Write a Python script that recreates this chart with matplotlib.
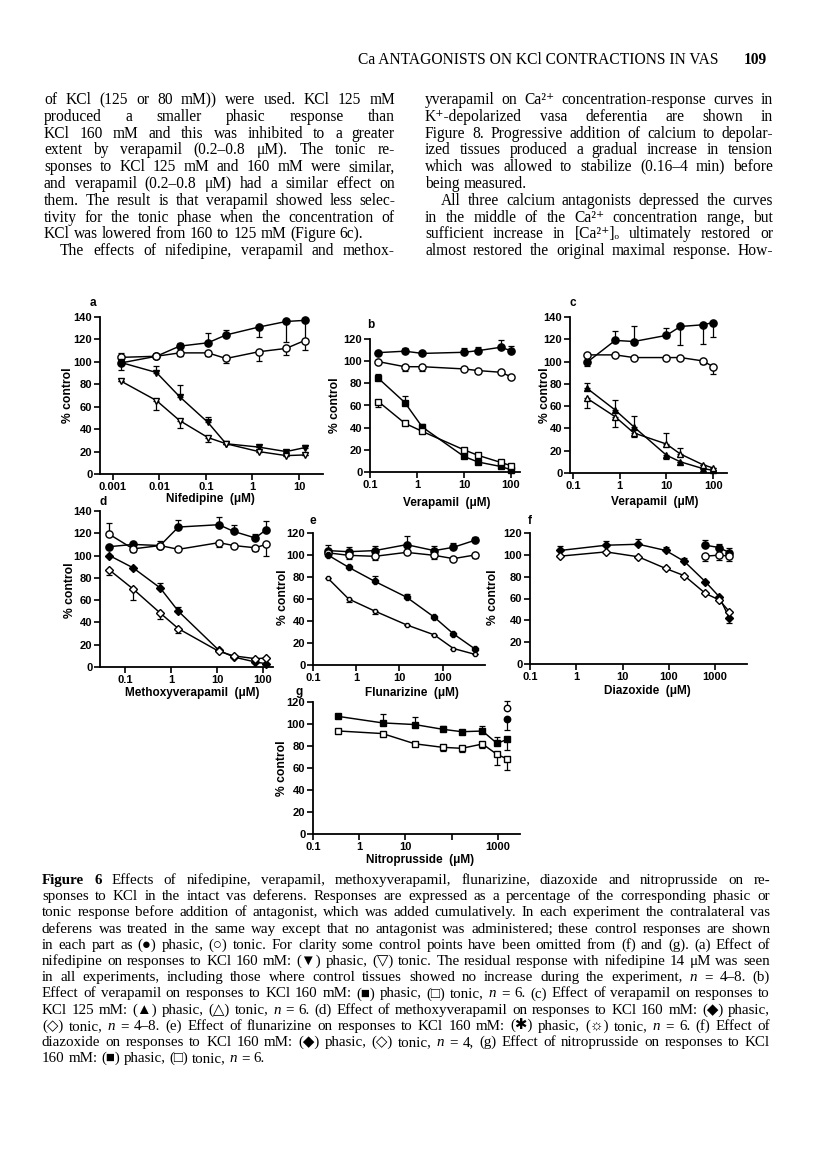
import numpy as np
import matplotlib
matplotlib.use("Agg")
import matplotlib.pyplot as plt
from matplotlib.ticker import NullLocator

# ---- data (concentration in uM, response in % control) ----
# error values: positive = bar drawn upward, negative = bar drawn downward

# (a) nifedipine, KCl 160 mM
nif_conc = [0.00146, 0.0086, 0.027, 0.11, 0.27, 1.36, 5.3, 13.2]
nif_ctrl_ph = [99, 105, 114, 117, 124, 131, 136, 137]
nif_ctrl_ph_err = [-6, 2, 3, 9, 4, -9, -18, -17]
nif_ctrl_to = [104, 105, 108, 108, 103, 109, 112, 119]
nif_ctrl_to_err = [4, -2, -3, -3, -4, -8, -6, -8]
nif_ph = [99.5, 90.5, 69, 46, 27, 24, 20, 23.5]
nif_ph_err = [0, 6, 10, 5, 0, 0, 0, 2]
nif_to = [83, 65.5, 47.7, 32.5, 27, 20, 16.4, 17]
nif_to_err = [0, -8, -7, -4, 0, 0, 0, 0]

# (b) verapamil, KCl 160 mM
ver_conc = [0.15, 0.55, 1.3, 10, 20, 60, 100]
ver_ctrl_ph = [107.7, 109, 107, 108, 109.5, 112.5, 109.5]
ver_ctrl_ph_err = [0, 3, 0, 4, 3, 7, 4]
ver_ctrl_to = [99.6, 95, 95, 93, 91.5, 90, 86]
ver_ctrl_to_err = [0, -4, -4, 0, -2, 0, 0]
ver_ph = [84.6, 62.7, 40.5, 14, 9, 5, 2]
ver_ph_err = [4, 6, 3, 0, 0, 0, 0]
ver_to = [63.6, 44, 36.6, 20, 15, 8.7, 5.7]
ver_to_err = [-5, 0, 0, 0, 0, 0, 0]

# (c) verapamil, KCl 125 mM
v125_conc = [0.2, 0.8, 2, 10, 20, 60, 100]
v125_ctrl_ph = [99.4, 119, 118, 123.5, 131.5, 133, 135]
v125_ctrl_ph_err = [-3, 8, 14, 7, -17, -17, -13]
v125_ctrl_to = [106, 106, 103.6, 103.6, 103.6, 100.6, 95.5]
v125_ctrl_to_err = [0, 0, 0, 0, 0, -3, -7]
v125_ph = [76, 56.5, 41.5, 16, 10, 4, 2.4]
v125_ph_err = [5, 9, 10, -3, 0, 0, 0]
v125_to = [67, 50.5, 36, 26, 17, 7.5, 4.5]
v125_to_err = [-9, -9, -4, 10, 5, 0, 0]

# (d) methoxyverapamil, KCl 160 mM
mv_conc = [0.046, 0.15, 0.58, 1.45, 11, 23, 68, 115]
mv_ctrl_ph = [108, 110, 109, 125.6, 127.7, 121.7, 115.8, 123]
mv_ctrl_ph_err = [0, 0, 4, 6, 7, 6, 4, 8]
mv_ctrl_to = [119, 106, 109, 105.6, 111.6, 109, 107, 110]
mv_ctrl_to_err = [10, -3, 0, 0, -4, 0, -3, -10]
mv_ph = [100, 89, 71, 50, 15, 9, 4.5, 3]
mv_ph_err = [0, 0, 4, 4, 0, 0, 0, 0]
mv_to = [87, 70, 48.5, 34.4, 14, 10, 7.5, 8]
mv_to_err = [-4, -10, -5, -4, 0, 0, 0, 0]

# (e) flunarizine, KCl 160 mM
flu_conc = [0.22, 0.67, 2.7, 14.6, 64, 178, 560]
flu_ctrl_ph = [104, 103, 104, 109.4, 104, 107, 113.4]
flu_ctrl_ph_err = [5, 4, 4, 8, 4, 4, 3]
flu_ctrl_to = [102, 99.7, 98.8, 102.4, 99.7, 96.7, 100]
flu_ctrl_to_err = [0, -3, -3, 0, -3, 0, -3]
flu_ph = [100, 88.8, 76, 61.7, 43.5, 28.3, 14.6]
flu_ph_err = [0, 0, 5, 3, 0, 0, 0]
flu_to = [79, 60, 49, 36.5, 27.4, 15, 9.7]
flu_to_err = [0, -3, -3, 0, 0, 0, 0]

# (f) diazoxide, KCl 160 mM
dia_conc = [0.45, 4.4, 22, 86, 217, 618, 1230, 2040]
dia_ph = [104, 108.8, 109.7, 104, 94, 75.4, 61.7, 42]
dia_ph_err = [4, 4, 5, 3, 3, 0, 0, -4]
dia_to = [98.8, 102.7, 98.2, 87.5, 80.9, 64.7, 58.7, 48]
dia_to_err = [0, 0, 0, 0, 0, 0, 0, 0]
dia_ctrl_conc = [618, 1230, 2040]
dia_ctrl_ph = [108.8, 106.7, 102]
dia_ctrl_ph_err = [5, 3, 4]
dia_ctrl_to = [98.8, 99.7, 98.8]
dia_ctrl_to_err = [-4, -4, -4]

# (g) nitroprusside, KCl 160 mM
nit_conc = [0.34, 3.2, 16, 64, 166, 466, 960, 1600]
nit_ph = [107, 101, 99.5, 95.2, 93, 93.6, 82.4, 86]
nit_ph_err = [0, 8, 7, 3, 0, 5, 6, -10]
nit_to = [93.7, 91.3, 82, 78.8, 77.9, 81.8, 72.4, 68.2]
nit_to_err = [0, 0, 0, -3, -3, -4, -10, -10]
nit_ctrl_conc = [1600]
nit_ctrl_ph = [104.3]
nit_ctrl_ph_err = [-10]
nit_ctrl_to = [114.3]
nit_ctrl_to_err = [7]

# ---- page text ----
header = "Ca ANTAGONISTS ON KCl CONTRACTIONS IN VAS"
page_no = "109"

left_col = [
    "of KCl (125 or 80 mM)) were used. KCl 125 mM",
    "produced a smaller phasic response than",
    "KCl 160 mM and this was inhibited to a greater",
    "extent by verapamil (0.2–0.8 μM). The tonic re-",
    "sponses to KCl 125 mM and 160 mM were similar,",
    "and verapamil (0.2–0.8 μM) had a similar effect on",
    "them. The result is that verapamil showed less selec-",
    "tivity for the tonic phase when the concentration of",
    "KCl was lowered from 160 to 125 mM (Figure 6c).",
    "The effects of nifedipine, verapamil and methox-",
]
right_col = [
    "yverapamil on Ca²⁺ concentration-response curves in",
    "K⁺-depolarized vasa deferentia are shown in",
    "Figure 8. Progressive addition of calcium to depolar-",
    "ized tissues produced a gradual increase in tension",
    "which was allowed to stabilize (0.16–4 min) before",
    "being measured.",
    "All three calcium antagonists depressed the curves",
    "in the middle of the Ca²⁺ concentration range, but",
    "sufficient increase in [Ca²⁺]ₒ ultimately restored or",
    "almost restored the original maximal response. How-",
]
left_ragged = {8}
left_indent = {9}
right_ragged = {5}
right_indent = {6}

caption = [
    "Figure 6 Effects of nifedipine, verapamil, methoxyverapamil, flunarizine, diazoxide and nitroprusside on re-",
    "sponses to KCl in the intact vas deferens. Responses are expressed as a percentage of the corresponding phasic or",
    "tonic response before addition of antagonist, which was added cumulatively. In each experiment the contralateral vas",
    "deferens was treated in the same way except that no antagonist was administered; these control responses are shown",
    "in each part as (●) phasic, (○) tonic. For clarity some control points have been omitted from (f) and (g). (a) Effect of",
    "nifedipine on responses to KCl 160 mM: (▼) phasic, (▽) tonic. The residual response with nifedipine 14 μM was seen",
    "in all experiments, including those where control tissues showed no increase during the experiment, n = 4–8. (b)",
    "Effect of verapamil on responses to KCl 160 mM: (■) phasic, (□) tonic, n = 6. (c) Effect of verapamil on responses to",
    "KCl 125 mM: (▲) phasic, (△) tonic, n = 6. (d) Effect of methoxyverapamil on responses to KCl 160 mM: (◆) phasic,",
    "(◇) tonic, n = 4–8. (e) Effect of flunarizine on responses to KCl 160 mM: (✱) phasic, (☼) tonic, n = 6. (f) Effect of",
    "diazoxide on responses to KCl 160 mM: (◆) phasic, (◇) tonic, n = 4, (g) Effect of nitroprusside on responses to KCl",
    "160 mM: (■) phasic, (□) tonic, n = 6.",
]

# ---- figure ----
W, H = 816, 1163
fig = plt.figure(figsize=(W / 100, H / 100), dpi=100)
fig.patch.set_facecolor("white")
renderer = fig.canvas.get_renderer()

SERIF = ["Liberation Serif", "DejaVu Sans"]
SANS = ["Liberation Sans", "DejaVu Sans"]


def fx(px):
    return px / W


def fy(py):
    return 1 - py / H


def put_line(text, x0, x1, yb, size, justify=True, bold_words=0):
    words = text.split()
    while True:
        arts = []
        for i, w in enumerate(words):
            kw = {}
            if i < bold_words:
                kw["fontweight"] = "bold"
            if w == "n":
                kw["fontstyle"] = "italic"
            arts.append(fig.text(0, fy(yb), w, fontsize=size, family=SERIF,
                                 va="baseline", ha="left", **kw))
        widths = [t.get_window_extent(renderer).width for t in arts]
        space = size * 100 / 72 * 0.25
        gap = space
        if justify and len(words) > 1:
            gap = (x1 - x0 - sum(widths)) / (len(words) - 1)
        if gap > 0.45 * space:
            break
        for t in arts:
            t.remove()
        size -= 0.2
    x = x0
    for t, w in zip(arts, widths):
        t.set_x(fx(x))
        x += w + gap


# header
fig.text(fx(358), fy(64), header, fontsize=11.2, family=SERIF, va="baseline", ha="left")
fig.text(fx(767), fy(64), page_no, fontsize=11.2, family=SERIF, weight="bold",
         va="baseline", ha="right")

# two text columns
for i, line in enumerate(left_col):
    x0 = 44 + (16 if i in left_indent else 0)
    put_line(line, x0, 395, 104 + i * 16.8, 11.2, justify=i not in left_ragged)
for i, line in enumerate(right_col):
    x0 = 425 + (16 if i in right_indent else 0)
    put_line(line, x0, 773, 104 + i * 16.8, 11.2, justify=i not in right_ragged)

# caption
for i, line in enumerate(caption):
    put_line(line, 42, 770, 884 + i * 16.2, 10.8, justify=i != len(caption) - 1,
             bold_words=2 if i == 0 else 0)


# ---- panels ----
def make_panel(left, right, top, bottom, ymax, ref_px, ref_val, dec_px, ticks, labels):
    ax = fig.add_axes([fx(left), fy(bottom), (right - left) / W, (bottom - top) / H])
    ax.set_xscale("log")
    lo = 10 ** (np.log10(ref_val) + (left - ref_px) / dec_px)
    hi = 10 ** (np.log10(ref_val) + (right - ref_px) / dec_px)
    ax.set_xlim(lo, hi)
    ax.set_ylim(0, ymax)
    ax.set_yticks(np.arange(0, ymax + 1, 20))
    ax.set_xticks(ticks)
    ax.set_xticklabels(labels)
    ax.xaxis.set_minor_locator(NullLocator())
    for s in ["top", "right"]:
        ax.spines[s].set_visible(False)
    for s in ["left", "bottom"]:
        ax.spines[s].set_linewidth(1.3)
    ax.tick_params(direction="out", length=4, width=1.2, pad=1.5)
    for lab in ax.get_xticklabels() + ax.get_yticklabels():
        lab.set_fontsize(8.0)
        lab.set_family(SANS)
        lab.set_fontweight("bold")
    ax.patch.set_alpha(0)
    return ax


def series(ax, x, y, err, marker, filled, ms=5.2):
    ax.plot(x, y, "-", color="k", lw=1.05, marker=marker, ms=ms,
            mfc="k" if filled else "white", mec="k", mew=1.0,
            clip_on=False, zorder=3)
    e = np.asarray(err, float)
    lo = np.where(e < 0, -e, 0)
    hi = np.where(e > 0, e, 0)
    ax.errorbar(x, y, yerr=[lo, hi], fmt="none", ecolor="k", elinewidth=0.9,
                capsize=2.2, capthick=0.9, clip_on=False, zorder=2)


def labels(letter, lx, ly, ylab_x, ylab_y, xlab, xlab_x, xlab_y):
    fig.text(fx(lx), fy(ly), letter, fontsize=8.5, family=SANS, weight="bold",
             ha="center", va="center")
    fig.text(fx(ylab_x), fy(ylab_y), "% control", fontsize=8.7, family=SANS,
             weight="bold", rotation=90, ha="center", va="center")
    fig.text(fx(xlab_x), fy(xlab_y), xlab, fontsize=8.5, family=SANS,
             weight="bold", ha="center", va="center")


dec_ticks = [0.001, 0.01, 0.1, 1, 10, 100, 1000]
dec_labels = ["0.001", "0.01", "0.1", "1", "10", "100", "1000"]

# (a)
ax = make_panel(100, 323, 317, 474, 140, 113, 0.001, 46.5, dec_ticks[:5], dec_labels[:5])
series(ax, nif_conc, nif_ctrl_ph, nif_ctrl_ph_err, "o", True)
series(ax, nif_conc, nif_ctrl_to, nif_ctrl_to_err, "o", False)
series(ax, nif_conc, nif_ph, nif_ph_err, "v", True, 4.6)
series(ax, nif_conc, nif_to, nif_to_err, "v", False, 4.6)
labels("a", 93, 303, 68, 395, "Nifedipine  (μM)", 210, 499)

# (b)
ax = make_panel(370, 520, 339, 472, 120, 370, 0.1, 47, dec_ticks[2:6], dec_labels[2:6])
series(ax, ver_conc, ver_ctrl_ph, ver_ctrl_ph_err, "o", True)
series(ax, ver_conc, ver_ctrl_to, ver_ctrl_to_err, "o", False)
series(ax, ver_conc, ver_ph, ver_ph_err, "s", True, 4.5)
series(ax, ver_conc, ver_to, ver_to_err, "s", False, 4.5)
labels("b", 371, 325, 335, 405, "Verapamil  (μM)", 447, 503)

# (c)
ax = make_panel(570, 727, 317, 473, 140, 573, 0.1, 46.7, dec_ticks[2:6], dec_labels[2:6])
series(ax, v125_conc, v125_ctrl_ph, v125_ctrl_ph_err, "o", True)
series(ax, v125_conc, v125_ctrl_to, v125_ctrl_to_err, "o", False)
series(ax, v125_conc, v125_ph, v125_ph_err, "^", True, 4.6)
series(ax, v125_conc, v125_to, v125_to_err, "^", False, 4.6)
labels("c", 573, 303, 545, 395, "Verapamil  (μM)", 655, 502)

# (d)
ax = make_panel(100, 273, 511, 667, 140, 125, 0.1, 46, dec_ticks[2:6], dec_labels[2:6])
series(ax, mv_conc, mv_ctrl_ph, mv_ctrl_ph_err, "o", True)
series(ax, mv_conc, mv_ctrl_to, mv_ctrl_to_err, "o", False)
series(ax, mv_conc, mv_ph, mv_ph_err, "D", True, 3.8)
series(ax, mv_conc, mv_to, mv_to_err, "D", False, 3.8)
labels("d", 103, 502, 70, 590, "Methoxyverapamil  (μM)", 192, 693)

# (e)
ax = make_panel(313, 485, 533, 665, 120, 313, 0.1, 43.2, dec_ticks[2:6], dec_labels[2:6])
series(ax, flu_conc, flu_ctrl_ph, flu_ctrl_ph_err, "o", True)
series(ax, flu_conc, flu_ctrl_to, flu_ctrl_to_err, "o", False)
series(ax, flu_conc, flu_ph, flu_ph_err, "8", True, 4.0)
series(ax, flu_conc, flu_to, flu_to_err, "8", False, 3.8)
labels("e", 313, 521, 283, 597, "Flunarizine  (μM)", 412, 693)

# (f)
ax = make_panel(530, 747, 533, 664, 120, 530, 0.1, 46.25, dec_ticks[2:], dec_labels[2:])
series(ax, dia_conc, dia_ph, dia_ph_err, "D", True, 3.8)
series(ax, dia_conc, dia_to, dia_to_err, "D", False, 3.8)
series(ax, dia_ctrl_conc, dia_ctrl_ph, dia_ctrl_ph_err, "o", True)
series(ax, dia_ctrl_conc, dia_ctrl_to, dia_ctrl_to_err, "o", False)
labels("f", 530, 521, 493, 597, "Diazoxide  (μM)", 647, 691)

# (g)
ax = make_panel(313, 520, 702, 834, 120, 313, 0.1, 46.2, dec_ticks[2:],
                ["0.1", "1", "10", "", "1000"])
series(ax, nit_conc, nit_ph, nit_ph_err, "s", True, 4.5)
series(ax, nit_conc, nit_to, nit_to_err, "s", False, 4.5)
series(ax, nit_ctrl_conc, nit_ctrl_ph, nit_ctrl_ph_err, "o", True, 4.6)
series(ax, nit_ctrl_conc, nit_ctrl_to, nit_ctrl_to_err, "o", False, 4.6)
labels("g", 299, 692, 282, 768, "Nitroprusside  (μM)", 420, 860)

fig.savefig("out.png", dpi=100)
